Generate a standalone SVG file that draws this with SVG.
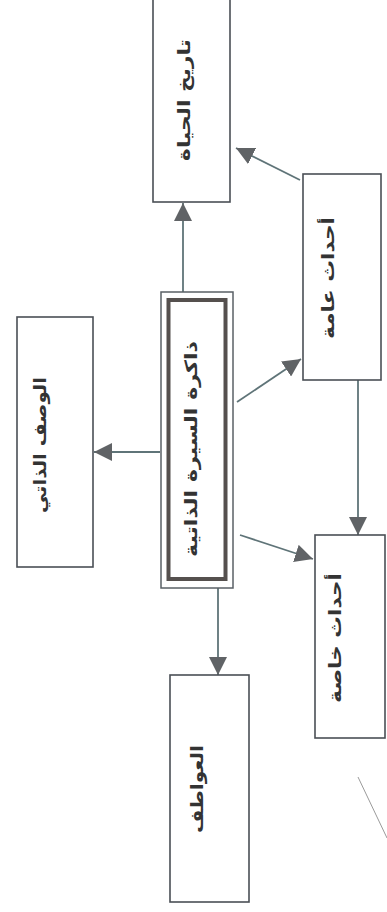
<svg xmlns="http://www.w3.org/2000/svg" width="387" height="912" viewBox="0 0 387 912">
<style>
.box{fill:#fff;stroke:#4a4f55;stroke-width:1.6}
.lbl{font-family:"DejaVu Sans",sans-serif;font-size:17px;font-weight:bold;fill:#333;text-anchor:middle;dominant-baseline:central}
.con{stroke:#5f7478;stroke-width:1.8;fill:none;marker-end:url(#ah)}
</style>
<defs>
<marker id="ah" markerUnits="userSpaceOnUse" markerWidth="20" markerHeight="18" refX="18" refY="9" orient="auto">
<path d="M0,0 L18,9 L0,18 Z" fill="#606366"/>
</marker>
</defs>
<rect width="387" height="912" fill="#fff"/>
<g id="connectors">
<line class="con" x1="183" y1="292" x2="183" y2="203"/>
<line class="con" x1="300" y1="180" x2="236" y2="148"/>
<line class="con" x1="237" y1="402" x2="301" y2="359"/>
<line class="con" x1="160" y1="452" x2="94" y2="452"/>
<line class="con" x1="358" y1="380" x2="358" y2="535"/>
<line class="con" x1="240" y1="535" x2="313" y2="559"/>
<line class="con" x1="218" y1="588" x2="218" y2="675"/>
<line x1="358" y1="777" x2="387" y2="838" stroke="#9a9a9a" stroke-width="1"/>
</g>
<g id="n_tarikh">
<rect class="box" x="153" y="-5" width="77" height="207"/>
<text class="lbl" transform="translate(184,100) rotate(-90)" textLength="122" lengthAdjust="spacingAndGlyphs">تاريخ الحياة</text>
</g>
<g id="n_amma">
<rect class="box" x="303" y="174" width="78" height="206"/>
<text class="lbl" transform="translate(328,278) rotate(-90)" textLength="122" lengthAdjust="spacingAndGlyphs">أحداث عامة</text>
</g>
<g id="n_center">
<rect x="161" y="292" width="72" height="296" fill="#fff" stroke="#5a6066" stroke-width="1.5"/>
<rect x="168.5" y="300" width="57" height="279" fill="none" stroke="#55504e" stroke-width="4"/>
<text class="lbl" transform="translate(191,449) rotate(-90)" textLength="216" lengthAdjust="spacingAndGlyphs">ذاكرة السيرة الذاتية</text>
</g>
<g id="n_wasf">
<rect class="box" x="17" y="317" width="76" height="250"/>
<text class="lbl" transform="translate(40,445) rotate(-90)" textLength="136" lengthAdjust="spacingAndGlyphs">الوصف الذاتي</text>
</g>
<g id="n_khassa">
<rect class="box" x="315" y="535" width="70" height="203"/>
<text class="lbl" transform="translate(335,638) rotate(-90)" textLength="130" lengthAdjust="spacingAndGlyphs">أحداث خاصة</text>
</g>
<g id="n_awatif">
<rect class="box" x="170" y="675" width="79" height="227"/>
<text class="lbl" transform="translate(197,789) rotate(-90)" textLength="88" lengthAdjust="spacingAndGlyphs">العواطف</text>
</g>
</svg>
